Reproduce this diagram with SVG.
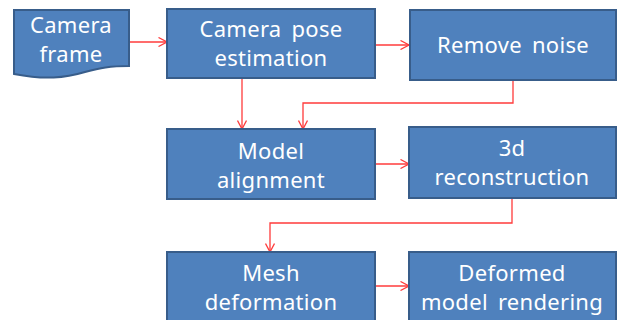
<svg xmlns="http://www.w3.org/2000/svg" width="620" height="320" viewBox="0 0 620 320">
<defs>
<style>
.box{fill:#4F81BD;stroke:#385D8A;stroke-width:2}
.t{fill:#fff;font-family:"Noto Sans","DejaVu Sans",sans-serif;font-size:22px;text-anchor:middle;letter-spacing:0.3px;word-spacing:4px}
.c{fill:none;stroke:#FF3B3B;stroke-width:1.3}
</style>
<marker id="ah" viewBox="0 0 10 10" refX="9.5" refY="5" markerWidth="10" markerHeight="10" markerUnits="userSpaceOnUse" orient="auto">
<path d="M1,0.5 L9.5,5 L1,9.5" fill="none" stroke="#FF3B3B" stroke-width="1.3"/>
</marker>
</defs>
<rect width="620" height="320" fill="#fff"/>
<g id="connectors">
<path class="c" marker-end="url(#ah)" d="M129,42 H167"/>
<path class="c" marker-end="url(#ah)" d="M375,45 H409"/>
<path class="c" marker-end="url(#ah)" d="M242,78 V129"/>
<path class="c" marker-end="url(#ah)" d="M513,80 V103 H303 V129"/>
<path class="c" marker-end="url(#ah)" d="M375,164 H409"/>
<path class="c" marker-end="url(#ah)" d="M512,198 V223 H270 V252"/>
<path class="c" marker-end="url(#ah)" d="M375,286 H409"/>
</g>
<g id="camera-frame">
<path class="box" d="M14,10 H129 V66 C110,66 100,68 85,72 C65,78 45,80 14,74 Z"/>
<text class="t" x="71" y="33">Camera</text>
<text class="t" x="71" y="62">frame</text>
</g>
<g id="camera-pose">
<rect class="box" x="167" y="9" width="208" height="69"/>
<text class="t" x="271" y="37">Camera pose</text>
<text class="t" x="271" y="66">estimation</text>
</g>
<g id="remove-noise">
<rect class="box" x="410" y="10" width="206" height="70"/>
<text class="t" x="513" y="53">Remove noise</text>
</g>
<g id="model-alignment">
<rect class="box" x="167" y="129" width="208" height="70"/>
<text class="t" x="271" y="159">Model</text>
<text class="t" x="271" y="188">alignment</text>
</g>
<g id="reconstruction">
<rect class="box" x="409" y="127" width="207" height="71"/>
<text class="t" x="512" y="156">3d</text>
<text class="t" x="512" y="185">reconstruction</text>
</g>
<g id="mesh-deformation">
<rect class="box" x="167" y="252" width="208" height="80"/>
<text class="t" x="271" y="281">Mesh</text>
<text class="t" x="271" y="310">deformation</text>
</g>
<g id="deformed-rendering">
<rect class="box" x="409" y="252" width="207" height="80"/>
<text class="t" x="512" y="281">Deformed</text>
<text class="t" x="512" y="310">model rendering</text>
</g>
</svg>
